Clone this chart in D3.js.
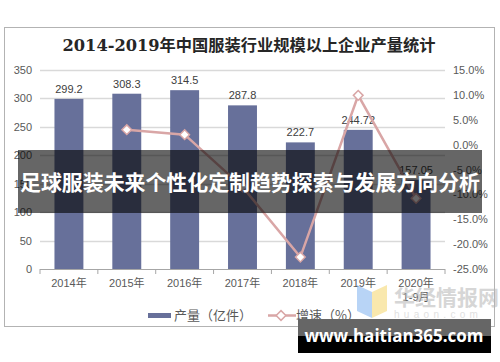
<!DOCTYPE html>
<html>
<head>
<meta charset="utf-8">
<script src="https://cdn.jsdelivr.net/npm/d3@7"></script>
<style>
  body { margin: 0; background: #fff; }
  text { font-family: "Liberation Sans", Arial, "Noto Sans CJK SC", sans-serif; }
</style>
</head>
<body>
<svg width="500" height="362"></svg>
<script>
const svg = d3.select('svg');

// data
const years = ['2014年', '2015年', '2016年', '2017年', '2018年', '2019年', '2020年'];
const output = [299.2, 308.3, 314.5, 287.8, 222.7, 244.72, 157.05];
const outputLabels = ['299.2', '308.3', '314.5', '287.8', '222.7', '244.72', '157.05'];
const growth = [null, 3.0, 2.0, -8.5, -22.6, 9.9, -10.8];
const leftTicks = [0, 50, 100, 150, 200, 250, 300, 350];
const rightTicks = [-25, -20, -15, -10, -5, 0, 5, 10, 15];

const margin = {left: 40, right: 55, top: 70, bottom: 93};
const width = 500, height = 362;
const plotRight = width - margin.right;
const plotBottom = height - margin.bottom;

// outer frame
svg.append('rect')
  .attr('x', 4.5).attr('y', 27.5)
  .attr('width', 490).attr('height', 299)
  .attr('fill', '#fff').attr('stroke', '#b3b3b3');

svg.append('text')
  .attr('x', 249).attr('y', 51)
  .attr('text-anchor', 'middle')
  .style('font-family', '"DejaVu Serif", "Noto Sans CJK SC", serif')
  .style('font-weight', 'bold')
  .style('font-size', '16px')
  .attr('textLength', 373)
  .attr('lengthAdjust', 'spacingAndGlyphs')
  .attr('fill', '#262626')
  .text('2014-2019年中国服装行业规模以上企业产量统计');

const x = d3.scaleBand()
  .domain(years)
  .range([margin.left, plotRight])
  .paddingInner(0.5).paddingOuter(0.25);

const yL = d3.scaleLinear().domain([0, 350]).range([plotBottom, margin.top]);
const yR = d3.scaleLinear().domain([-25, 15]).range([plotBottom, margin.top]);

// gridlines
svg.append('g')
  .selectAll('line').data(leftTicks.filter(d => d > 0))
  .enter().append('line')
    .attr('x1', margin.left).attr('x2', plotRight)
    .attr('y1', d => Math.round(yL(d)) + 0.5)
    .attr('y2', d => Math.round(yL(d)) + 0.5)
    .attr('stroke', '#d9d9d9').attr('stroke-width', 1.5);

// left axis
const yAxisL = svg.append('g')
  .attr('transform', `translate(${margin.left},0)`)
  .call(d3.axisLeft(yL).tickValues(leftTicks).tickSize(0).tickPadding(8));
yAxisL.select('.domain').remove();
yAxisL.selectAll('text').attr('fill', '#595959').style('font-size', '11px');

// right axis
const yAxisR = svg.append('g')
  .attr('transform', `translate(${plotRight},0)`)
  .call(d3.axisRight(yR).tickValues(rightTicks).tickSize(0).tickPadding(8)
    .tickFormat(d => d.toFixed(1) + '%'));
yAxisR.select('.domain').remove();
yAxisR.selectAll('text').attr('fill', '#595959').style('font-size', '11px');

// bars
svg.append('g')
  .selectAll('rect').data(output)
  .enter().append('rect')
    .attr('x', (d, i) => x(years[i]))
    .attr('width', x.bandwidth())
    .attr('y', d => yL(d))
    .attr('height', d => plotBottom - yL(d))
    .attr('fill', '#67709a');

svg.append('g')
  .selectAll('text').data(output)
  .enter().append('text')
    .attr('x', (d, i) => x(years[i]) + x.bandwidth() / 2)
    .attr('y', d => yL(d) - 6)
    .attr('text-anchor', 'middle')
    .attr('fill', '#404040')
    .style('font-size', '11px')
    .text((d, i) => outputLabels[i]);

// x axis
const step = x.step();
const xAxisG = svg.append('g').attr('transform', `translate(0,${plotBottom})`);
xAxisG.append('line')
  .attr('x1', margin.left).attr('x2', plotRight)
  .attr('y1', 0.5).attr('y2', 0.5)
  .attr('stroke', '#a6a6a6');
xAxisG.selectAll('.tk').data(d3.range(years.length + 1))
  .enter().append('line')
    .attr('x1', i => margin.left + i * step).attr('x2', i => margin.left + i * step)
    .attr('y1', 0).attr('y2', 5)
    .attr('stroke', '#a6a6a6');
xAxisG.selectAll('.lbl').data(years)
  .enter().append('text')
    .attr('x', d => x(d) + x.bandwidth() / 2)
    .attr('y', 18)
    .attr('text-anchor', 'middle')
    .attr('fill', '#595959')
    .style('font-size', '11px')
    .text(d => d);
xAxisG.append('text')
  .attr('x', x('2020年') + x.bandwidth() / 2)
  .attr('y', 32)
  .attr('text-anchor', 'middle')
  .attr('fill', '#595959')
  .style('font-size', '11px')
  .text('1-9月');

// growth line
const pts = growth.map((g, i) => ({year: years[i], g})).filter(d => d.g !== null);
const line = d3.line()
  .x(d => x(d.year) + x.bandwidth() / 2)
  .y(d => yR(d.g));
svg.append('path')
  .datum(pts)
  .attr('d', line)
  .attr('fill', 'none')
  .attr('stroke', '#d9a6a6')
  .attr('stroke-width', 2.5);

const diamond = d3.symbol().type(d3.symbolDiamond2).size(60);
svg.append('g')
  .selectAll('path').data(pts)
  .enter().append('path')
    .attr('d', diamond)
    .attr('transform', d => `translate(${x(d.year) + x.bandwidth() / 2},${yR(d.g)})`)
    .attr('fill', '#fff')
    .attr('stroke', '#d9a6a6')
    .attr('stroke-width', 1.5);

// legend
const lg = svg.append('g').attr('transform', 'translate(0,315)');
lg.append('rect').attr('x', 148).attr('y', -2).attr('width', 23).attr('height', 5).attr('fill', '#67709a');
lg.append('text').attr('x', 174).attr('y', 5).attr('fill', '#595959').style('font-size', '13px')
  .style('font-family', '"Noto Sans CJK SC", sans-serif').text('产量（亿件）');
lg.append('line').attr('x1', 268).attr('x2', 296).attr('y1', 0.5).attr('y2', 0.5)
  .attr('stroke', '#d9a6a6').attr('stroke-width', 2.5);
lg.append('path').attr('d', diamond).attr('transform', 'translate(281,0.5)')
  .attr('fill', '#fff').attr('stroke', '#d9a6a6').attr('stroke-width', 1.5);
lg.append('text').attr('x', 296).attr('y', 5).attr('fill', '#595959').style('font-size', '13px')
  .style('font-family', '"Noto Sans CJK SC", sans-serif').text('增速（%）');

// huaon watermark
const wm = svg.append('g').attr('opacity', 0.55);
wm.append('path').attr('d', 'M357,285 L372,292 L372,318 L357,311 Z').attr('fill', '#7fb2ef');
wm.append('path').attr('d', 'M372,292 L387,285 L387,311 L372,318 Z').attr('fill', '#f5d66b');
wm.append('text').attr('x', 394).attr('y', 305)
  .style('font-family', '"Noto Sans CJK SC", sans-serif').style('font-size', '21px')
  .style('font-weight', 'bold').attr('fill', '#b5b5b5').text('华经情报网');
wm.append('text').attr('x', 394).attr('y', 318)
  .style('font-size', '10px').attr('letter-spacing', '4.3px')
  .attr('fill', '#c8c8c8').text('huaon.com');

// overlay banner
svg.append('rect')
  .attr('x', 18).attr('y', 150).attr('width', 464).attr('height', 63)
  .attr('fill', 'rgba(0,0,0,0.6)');
svg.append('text')
  .attr('x', 250).attr('y', 190)
  .attr('text-anchor', 'middle')
  .style('font-family', '"Noto Sans CJK SC", sans-serif')
  .style('font-weight', 'bold')
  .style('font-size', '21px')
  .attr('textLength', 460)
  .attr('lengthAdjust', 'spacingAndGlyphs')
  .attr('fill', '#fff')
  .text('足球服装未来个性化定制趋势探索与发展方向分析');

// site stamp
svg.append('rect').attr('x', 298).attr('y', 319).attr('width', 193).attr('height', 17).attr('fill', '#666');
svg.append('rect').attr('x', 298).attr('y', 336).attr('width', 193).attr('height', 17).attr('fill', '#000');
svg.append('text')
  .attr('x', 394).attr('y', 342)
  .attr('text-anchor', 'middle')
  .style('font-family', '"Open Sans", "DejaVu Sans", sans-serif')
  .style('font-weight', 'bold')
  .style('font-size', '17px')
  .attr('fill', '#fff')
  .text('www.haitian365.com');
</script>
</body>
</html>
